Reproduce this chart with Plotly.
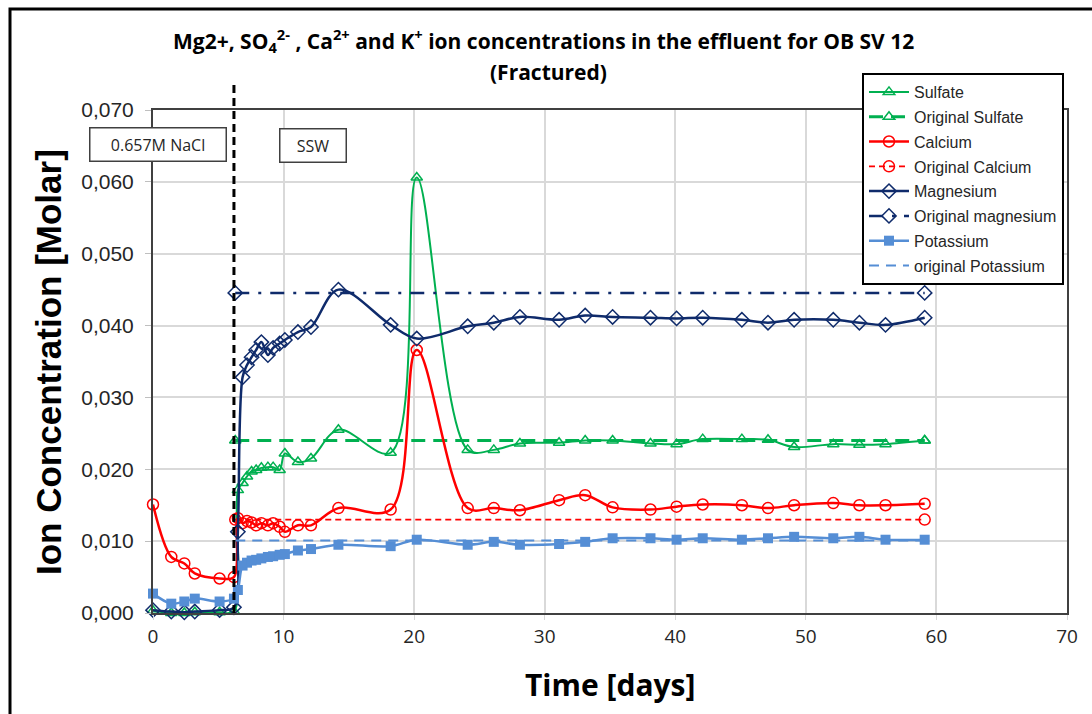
import plotly.graph_objects as go

# ---------------- data ----------------
time_days = [0, 1.4, 2.4, 3.2, 5.1, 6.2,
             6.5, 6.86, 7.2, 7.55, 7.9, 8.3, 8.8, 9.2, 9.7, 10.1, 11.1, 12.1,
             14.2, 18.2, 20.2, 24.1, 26.1, 28.1, 31.1, 33.1, 35.2, 38.1, 40.1,
             42.1, 45.1, 47.1, 49.1, 52.1, 54.1, 56.1, 59.1]

sulfate = [0.0003, 0.0000, 0.0000, 0.0001, 0.0001, 0.0002,
           0.0171, 0.0181, 0.0190, 0.0197, 0.0199, 0.0202, 0.0203, 0.0203, 0.0199, 0.0222, 0.0210, 0.0215,
           0.0255, 0.0223, 0.0606, 0.0227, 0.0227, 0.0236, 0.0237, 0.0240, 0.0240, 0.0236, 0.0235,
           0.0242, 0.0242, 0.0241, 0.0231, 0.0235, 0.0234, 0.0235, 0.0240]

calcium = [0.0151, 0.0078, 0.0069, 0.0055, 0.0048, 0.0050,
           0.0132, 0.0125, 0.0128, 0.0126, 0.0122, 0.0125, 0.0122, 0.0125, 0.0120, 0.0113, 0.0122, 0.0122,
           0.0146, 0.0144, 0.0366, 0.0146, 0.0146, 0.0143, 0.0157, 0.0164, 0.0147, 0.0144, 0.0148,
           0.0151, 0.0150, 0.0146, 0.0150, 0.0153, 0.0150, 0.0150, 0.0152]

magnesium = [0.0004, 0.0002, 0.0001, 0.0002, 0.0004, 0.0008,
             0.0113, 0.0328, 0.0345, 0.0356, 0.0366, 0.0377, 0.0359, 0.0369, 0.0375, 0.0380, 0.0391, 0.0398,
             0.0450, 0.0401, 0.0382, 0.0399, 0.0404, 0.0412, 0.0408, 0.0414, 0.0412, 0.0411, 0.0410,
             0.0411, 0.0408, 0.0404, 0.0408, 0.0408, 0.0404, 0.0401, 0.0411]

potassium = [0.0027, 0.0013, 0.0016, 0.0020, 0.0016, 0.0020,
             0.0032, 0.0066, 0.0070, 0.0073, 0.0074, 0.0076, 0.0078, 0.0079, 0.0081, 0.0082, 0.0087, 0.0089,
             0.0095, 0.0093, 0.0102, 0.0095, 0.0099, 0.0095, 0.0096, 0.0099, 0.0104, 0.0104, 0.0102,
             0.0104, 0.0102, 0.0104, 0.0106, 0.0104, 0.0106, 0.0102, 0.0102]

orig_time = [6.3, 59.1]
orig_sulfate = [0.0240, 0.0240]
orig_calcium = [0.0130, 0.0130]
orig_magnesium = [0.04455, 0.04455]
orig_potassium = [0.0101, 0.0101]

ssw_switch_day = 6.2
x_ticks = [0, 10, 20, 30, 40, 50, 60, 70]

# ---------------- styles ----------------
GREEN = "#00B050"
RED = "#FF0000"
NAVY = "#0F2B6B"
LBLUE = "#558ED5"

# plot area in pixels
L, R, T, B = 153, 1067, 110, 613
W, H = 1092, 714


def px(xp):
    return (xp - L) / (R - L)


def py(yp):
    return (B - yp) / (B - T)


fig = go.Figure()

common = dict(mode="lines+markers", line_shape="spline", cliponaxis=False)

fig.add_trace(go.Scatter(x=time_days, y=sulfate, name="Sulfate", legendgroup="g1",
                         line=dict(color=GREEN, width=2),
                         marker=dict(symbol="triangle-up-open", size=10, color=GREEN, line=dict(width=1.5)),
                         **common))
fig.add_trace(go.Scatter(x=orig_time, y=orig_sulfate, name="Original Sulfate", legendgroup="g2",
                         mode="lines+markers", cliponaxis=False,
                         line=dict(color=GREEN, width=3, dash="14px,8px"),
                         marker=dict(symbol="triangle-up-open", size=10, color=GREEN, line=dict(width=1.5))))
fig.add_trace(go.Scatter(x=time_days, y=calcium, name="Calcium", legendgroup="g3",
                         line=dict(color=RED, width=2.5),
                         marker=dict(symbol="circle-open", size=11, color=RED, line=dict(width=1.5)),
                         **common))
fig.add_trace(go.Scatter(x=orig_time, y=orig_calcium, name="Original Calcium", legendgroup="g4",
                         mode="lines+markers", cliponaxis=False,
                         line=dict(color=RED, width=1.8, dash="6px,4px"),
                         marker=dict(symbol="circle-open", size=11, color=RED, line=dict(width=1.5))))
fig.add_trace(go.Scatter(x=time_days, y=magnesium, name="Magnesium", legendgroup="g5",
                         line=dict(color=NAVY, width=2.5),
                         marker=dict(symbol="diamond-open", size=11, color=NAVY, line=dict(width=1.5)),
                         **common))
fig.add_trace(go.Scatter(x=orig_time, y=orig_magnesium, name="Original magnesium", legendgroup="g6",
                         mode="lines+markers", cliponaxis=False,
                         line=dict(color=NAVY, width=2.5, dash="14px,9px,3px,9px"),
                         marker=dict(symbol="diamond-open", size=11, color=NAVY, line=dict(width=1.5))))
fig.add_trace(go.Scatter(x=time_days, y=potassium, name="Potassium", legendgroup="g7",
                         line=dict(color=LBLUE, width=2.5),
                         marker=dict(symbol="square", size=10, color=LBLUE),
                         **common))
fig.add_trace(go.Scatter(x=orig_time, y=orig_potassium, name="original Potassium", legendgroup="g8",
                         mode="lines", cliponaxis=False,
                         line=dict(color=LBLUE, width=2, dash="10px,7px")))

# vertical separator (NaCl -> SSW)
fig.add_shape(type="line", xref="x", yref="paper", x0=ssw_switch_day, x1=ssw_switch_day,
              y0=0, y1=py(85), line=dict(color="black", width=3, dash="8px,5px"))

# outer frame (left + top visible)
fig.add_shape(type="rect", xref="paper", yref="paper", x0=px(10), x1=px(1110), y0=py(730), y1=py(9),
              line=dict(color="black", width=3), layer="above")

TXT = "#262626"
box = dict(xref="paper", yref="paper", showarrow=False, xanchor="center", yanchor="middle",
           bordercolor="#404040", borderwidth=1.5, bgcolor="white", borderpad=2)
fig.add_annotation(text="0.657M NaCl", x=px(157.5), y=py(144.5), width=131, height=28,
                   font=dict(family="Open Sans", size=16, color=TXT), **box)
fig.add_annotation(text="SSW", x=px(312.5), y=py(145.5), width=61, height=28,
                   font=dict(family="Open Sans", size=16, color=TXT), **box)

# titles
lab = dict(xref="paper", yref="paper", showarrow=False, xanchor="center", yanchor="middle")
fig.add_annotation(text="Mg2+, SO<sub>4</sub><sup>2-</sup> , Ca<sup>2+</sup> and K<sup>+</sup> ion concentrations in the effluent for OB SV 12",
                   x=px(543), y=py(40),
                   font=dict(family="Open Sans", size=21, color="black", weight="bold"), **lab)
fig.add_annotation(text="(Fractured)", x=px(548), y=py(72),
                   font=dict(family="Open Sans", size=21, color="black", weight="bold"), **lab)
fig.add_annotation(text="Ion Concentration [Molar]", x=px(48), y=py(362), textangle=-90,
                   font=dict(family="Liberation Sans", size=35, color="black", weight="bold"), **lab)
fig.add_annotation(text="Time [days]", x=px(610), y=py(684),
                   font=dict(family="Open Sans", size=30, color="black", weight="bold"), **lab)

fig.update_layout(
    width=W, height=H,
    margin=dict(l=L, r=W - R, t=T, b=H - B, pad=0),
    paper_bgcolor="white", plot_bgcolor="white",
    separators=",.",
    showlegend=True,
    legend=dict(x=px(862), y=py(73), xanchor="left", yanchor="top",
                bgcolor="white", bordercolor="black", borderwidth=2,
                font=dict(family="Liberation Sans", size=16, color=TXT),
                traceorder="grouped", tracegroupgap=1, itemwidth=40),
    xaxis=dict(range=[0, 70], tickvals=x_ticks, showgrid=True, gridcolor="#D9D9D9", gridwidth=1.5,
               showline=True, linecolor="#404040", linewidth=2, mirror=True, zeroline=False,
               ticks="outside", ticklen=5, tickcolor="#D9D9D9",
               tickfont=dict(family="Open Sans", size=19, color=TXT)),
    yaxis=dict(range=[0, 0.070], dtick=0.01, tickformat=".3f", showgrid=True, gridcolor="#D9D9D9",
               gridwidth=1.5, showline=True, linecolor="#404040", linewidth=2, mirror=True, zeroline=False,
               ticks="outside", ticklen=6, tickcolor="#BFBFBF", ticklabelstandoff=7,
               tickfont=dict(family="Liberation Sans", size=21, color=TXT)),
)

fig.write_html("out.html")
